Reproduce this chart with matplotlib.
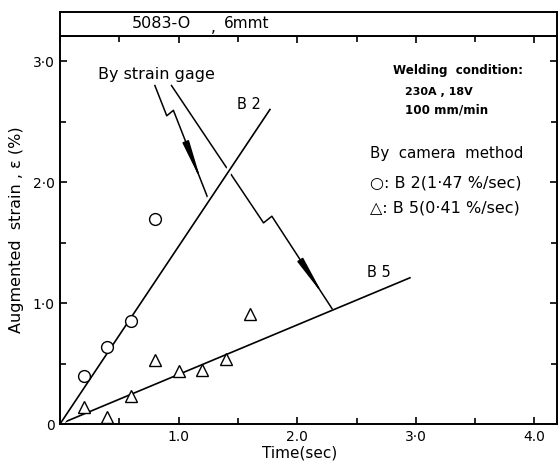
import numpy as np
import matplotlib.pyplot as plt
import matplotlib.patheffects as pe
from matplotlib.ticker import MultipleLocator, FixedLocator, FixedFormatter

# camera method measurements
t_b2 = [0.2, 0.4, 0.6, 0.8]
strain_b2 = [0.40, 0.64, 0.85, 1.70]
t_b5 = [0.2, 0.4, 0.6, 0.8, 1.0, 1.2, 1.4, 1.6]
strain_b5 = [0.14, 0.06, 0.23, 0.53, 0.44, 0.45, 0.54, 0.91]

# strain gage rates (%/sec) and the time span of each fitted line
rate_b2 = 1.47
rate_b5 = 0.41
t_end_b2 = 1.77
t_end_b5 = 2.95

# lightning-style pointers from "By strain gage" to the two lines
gage_path_b2 = [(0.80, 2.80), (0.90, 2.55), (0.956, 2.595), (1.25, 1.86)]
gage_path_b5 = [(0.94, 2.80), (1.716, 1.664), (1.786, 1.719), (2.293, 0.955)]

x_ticks = [1, 2, 3, 4]
x_tick_labels = ['1.0', '2.0', '3·0', '4.0']
y_ticks = [0, 1, 2, 3]
y_tick_labels = ['0', '1·0', '2·0', '3·0']

plt.rcParams['font.family'] = 'DejaVu Sans'

W, H = 558, 463
fig = plt.figure(figsize=(W / 100, H / 100), dpi=100)
L, R, B, T, HT = 60, 557, 424, 36, 12
ax = fig.add_axes([L / W, (H - B) / H, (R - L) / W, (B - T) / H])
hax = fig.add_axes([L / W, (H - T) / H, (R - L) / W, (T - HT) / H])

lw_axis = 1.4
for a in (ax, hax):
    for s in a.spines.values():
        s.set_linewidth(lw_axis)

# header strip
hax.set_xticks([])
hax.set_yticks([])
hax.text(0.203, 0.5, '5083-O', ha='center', va='center', fontsize=11.5)
hax.text(0.308, 0.35, ',', ha='center', va='center', fontsize=11)
hax.text(0.376, 0.5, '6mmt', ha='center', va='center', fontsize=11)

ax.set_xlim(0, 4.19)
ax.set_ylim(0, 3.21)
ax.xaxis.set_major_locator(FixedLocator(x_ticks))
ax.xaxis.set_major_formatter(FixedFormatter(x_tick_labels))
ax.yaxis.set_major_locator(FixedLocator(y_ticks))
ax.yaxis.set_major_formatter(FixedFormatter(y_tick_labels))
ax.xaxis.set_minor_locator(MultipleLocator(0.5))
ax.yaxis.set_minor_locator(MultipleLocator(0.5))
ax.tick_params(which='both', direction='in', top=True, right=True,
               width=1.2, labelsize=10, pad=4)
ax.tick_params(which='major', length=5)
ax.tick_params(which='minor', length=4)


def gage_pointer(path, head_frac):
    pts = np.array(path)
    ax.plot(pts[:, 0], pts[:, 1], color='black', lw=1.1, zorder=2)
    p0, p1 = pts[-2], pts[-1]
    tip = p0 + head_frac * (p1 - p0)
    tail = p0 + (head_frac - 0.2) * (p1 - p0)
    ax.annotate('', xy=tip, xytext=tail,
                arrowprops=dict(arrowstyle='-|>,head_length=2.4,head_width=0.2',
                                color='black', lw=1.1, shrinkA=0, shrinkB=0))


gage_pointer(gage_path_b2, 0.80)
gage_pointer(gage_path_b5, 0.86)

# fitted lines through the origin; B2 breaks the gage pointer it crosses
tb2 = np.array([0, t_end_b2])
tb5 = np.array([0, t_end_b5])
ax.plot(tb2, rate_b2 * tb2, color='black', lw=1.2, zorder=2.5,
        path_effects=[pe.Stroke(linewidth=5, foreground='white'), pe.Normal()])
ax.plot(tb5, rate_b5 * tb5, color='black', lw=1.2, zorder=2)

ax.plot(t_b2, strain_b2, 'o', mfc='white', mec='black', mew=1.0, ms=8.5, zorder=3)
ax.plot(t_b5, strain_b5, '^', mfc='white', mec='black', mew=1.0, ms=8.5, zorder=3)

ax.text(0.81, 2.89, 'By strain gage', ha='center', va='center', fontsize=11.5)
ax.text(1.59, 2.645, 'B 2', ha='center', va='center', fontsize=10.5)
ax.text(2.69, 1.25, 'B 5', ha='center', va='center', fontsize=10.5)

ax.text(2.81, 2.926, 'Welding  condition:', ha='left', va='center',
        fontsize=8.6, fontweight='bold')
ax.text(2.91, 2.75, '230A , 18V', ha='left', va='center',
        fontsize=8, fontweight='bold')
ax.text(2.91, 2.595, '100 mm/min', ha='left', va='center',
        fontsize=8.6, fontweight='bold')

ax.text(2.61, 2.24, 'By  camera  method', ha='left', va='center', fontsize=10.8)
ax.text(2.61, 1.99, '○: B 2(1·47 %/sec)', ha='left', va='center', fontsize=11.5)
ax.text(2.61, 1.79, '△: B 5(0·41 %/sec)', ha='left', va='center', fontsize=11.5)

ax.set_xlabel('Time(sec)', fontsize=11, labelpad=2)
ax.xaxis.set_label_coords((300 - L) / (R - L), -0.055)
ax.set_ylabel('Augmented  strain , ε (%)', fontsize=11.5, labelpad=6)

fig.savefig('out.png', dpi=100, facecolor='white')
